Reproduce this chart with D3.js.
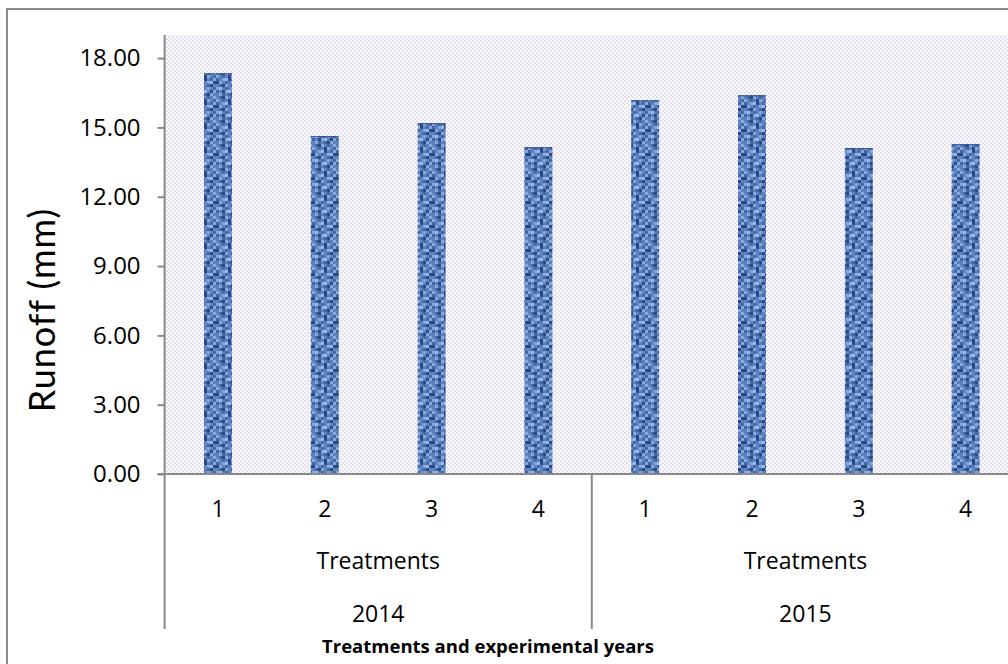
<!DOCTYPE html>
<html>
<head>
<meta charset="utf-8">
<script src="https://cdn.jsdelivr.net/npm/d3@7"></script>
<style>
  html, body { margin: 0; padding: 0; background: #fff; }
  svg { display: block; }
</style>
</head>
<body>
<svg id="chart" width="1008" height="664"></svg>
<script>
// ---- data ----
const years = ["2014", "2015"];
const treatments = ["1", "2", "3", "4"];
const runoff2014 = [17.34, 14.62, 15.18, 14.14];
const runoff2015 = [16.17, 16.39, 14.10, 14.27];
const yTickValues = [0, 3, 6, 9, 12, 15, 18];
const groupLabel = "Treatments";
const yTitle = "Runoff (mm)";
const xTitle = "Treatments and experimental years";

// ---- build rows ----
const seriesByYear = { "2014": runoff2014, "2015": runoff2015 };
const rows = [];
years.forEach(yr => treatments.forEach((t, i) => rows.push({ key: yr + "-" + t, year: yr, treatment: t, value: seriesByYear[yr][i] })));

// ---- layout ----
const svg = d3.select("#chart");
const plotLeft = 164.6, plotRight = 1019, plotTop = 35, plotBottom = 474;
const catBottom = 629;
const axisColor = "#898989";
const font = "'Open Sans', sans-serif";

const x = d3.scaleBand().domain(rows.map(d => d.key)).range([plotLeft, plotRight])
  .paddingInner(0.738).paddingOuter(0.369);
const y = d3.scaleLinear().domain([0, 19]).range([plotBottom, plotTop]);

// ---- patterns ----
const defs = svg.append("defs");
const checker = defs.append("pattern").attr("id", "checker").attr("patternUnits", "userSpaceOnUse")
  .attr("width", 4).attr("height", 4);
checker.append("rect").attr("width", 4).attr("height", 4).attr("fill", "#ffffff");
checker.append("rect").attr("width", 2).attr("height", 2).attr("fill", "#e2dff1");
checker.append("rect").attr("x", 2).attr("y", 2).attr("width", 2).attr("height", 2).attr("fill", "#e2dff1");

const denimColors = { a: "#44699f", b: "#86a8e0", c: "#2a4a85", d: "#5d82c2", e: "#9cb9ec" };
const denimRows = [
  "dacbdadb",
  "bdadcbda",
  "adbecdab",
  "cbdadbec",
  "dacbdacd",
  "bedadbda",
  "adcbedcb",
  "dbadacbd"
];
const denim = defs.append("pattern").attr("id", "denim").attr("patternUnits", "userSpaceOnUse")
  .attr("width", 24).attr("height", 24);
denimRows.forEach((row, r) => row.split("").forEach((ch, c) => {
  denim.append("rect").attr("x", c * 3).attr("y", r * 3).attr("width", 3).attr("height", 3)
    .attr("fill", denimColors[ch]);
}));

// ---- outer frame ----
svg.append("rect").attr("x", 7).attr("y", 9).attr("width", 1100).attr("height", 700)
  .attr("fill", "#fff").attr("stroke", axisColor).attr("stroke-width", 2);

// ---- plot background ----
svg.append("rect").attr("x", plotLeft).attr("y", plotTop)
  .attr("width", plotRight - plotLeft).attr("height", plotBottom - plotTop)
  .attr("fill", "url(#checker)");

// ---- bars ----
svg.append("g").selectAll("rect").data(rows).join("rect")
  .attr("x", d => x(d.key)).attr("width", x.bandwidth())
  .attr("y", d => y(d.value)).attr("height", d => y(0) - y(d.value))
  .attr("fill", "url(#denim)");
svg.append("g").selectAll("line").data(rows).join("line")
  .attr("x1", d => x(d.key)).attr("x2", d => x(d.key) + x.bandwidth())
  .attr("y1", d => y(d.value) + 0.5).attr("y2", d => y(d.value) + 0.5)
  .attr("stroke", "#2a4a88").attr("stroke-width", 1);

// ---- y axis ----
const yAxis = d3.axisLeft(y).tickValues(yTickValues).tickFormat(d3.format(".2f"))
  .tickSizeInner(7).tickSizeOuter(0).tickPadding(17);
const gy = svg.append("g").attr("transform", `translate(${plotLeft},0)`).call(yAxis);
gy.select(".domain").remove();
gy.selectAll(".tick line").attr("stroke", axisColor).attr("stroke-width", 2);
gy.selectAll(".tick text").attr("font-family", font).attr("font-size", 24).attr("fill", "#000");

// y axis line extending through category area
svg.append("line").attr("x1", plotLeft).attr("x2", plotLeft).attr("y1", plotTop).attr("y2", catBottom)
  .attr("stroke", axisColor).attr("stroke-width", 2);

// ---- x axis (treatment numbers) ----
const xAxis = d3.axisBottom(x).tickFormat(k => rows.find(r => r.key === k).treatment)
  .tickSizeInner(0).tickSizeOuter(0).tickPadding(27);
const gx = svg.append("g").attr("transform", `translate(0,${plotBottom})`).call(xAxis);
gx.select(".domain").remove();
gx.selectAll(".tick text").attr("font-family", font).attr("font-size", 23).attr("fill", "#000");

svg.append("line").attr("x1", plotLeft - 7).attr("x2", plotRight).attr("y1", plotBottom).attr("y2", plotBottom)
  .attr("stroke", axisColor).attr("stroke-width", 2);

// ---- group labels and separators ----
years.forEach((yr, gi) => {
  const keys = rows.filter(r => r.year === yr).map(r => r.key);
  const x0 = x(keys[0]) - x.step() * x.paddingOuter();
  const x1 = x(keys[keys.length - 1]) + x.bandwidth() + x.step() * x.paddingOuter();
  const cx = (x0 + x1) / 2;
  svg.append("text").attr("x", cx).attr("y", 569).attr("text-anchor", "middle")
    .attr("font-family", font).attr("font-size", 23).attr("fill", "#000").text(groupLabel);
  svg.append("text").attr("x", cx).attr("y", 622).attr("text-anchor", "middle")
    .attr("font-family", font).attr("font-size", 23).attr("fill", "#000").text(yr);
  svg.append("line").attr("x1", x1).attr("x2", x1).attr("y1", plotBottom).attr("y2", catBottom)
    .attr("stroke", axisColor).attr("stroke-width", 2);
});

// ---- titles ----
svg.append("text").attr("transform", "translate(55,310) rotate(-90)").attr("text-anchor", "middle")
  .attr("font-family", "Lato, sans-serif").attr("font-size", 36).attr("letter-spacing", 1).attr("fill", "#000").text(yTitle);
svg.append("text").attr("x", 488).attr("y", 653).attr("text-anchor", "middle")
  .attr("font-family", font).attr("font-weight", "bold").attr("font-size", 18.5).attr("fill", "#000").text(xTitle);
</script>
</body>
</html>
